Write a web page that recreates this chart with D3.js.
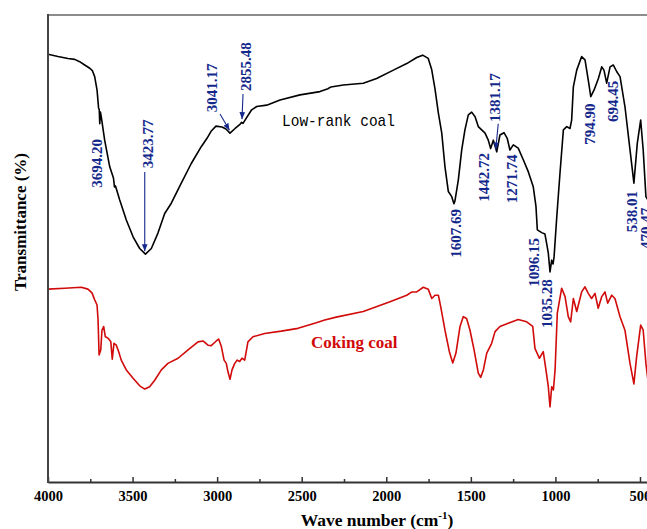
<!DOCTYPE html>
<html><head><meta charset="utf-8">
<script src="https://cdn.jsdelivr.net/npm/d3@7/dist/d3.min.js"></script>
<style>body{margin:0;background:#fff}svg{display:block}</style>
</head><body><svg id="c" width="647" height="529"></svg>
<script>
// ---- data ----
const lowRankWave = [4000,3941,3882,3842,3813,3783,3753,3738,3724,3710,3701,3697,3694,3690,3685,3665,3635,3613,3607,3601,3576,3537,3497,3458,3424,3389,3350,3310,3271,3212,3153,3094,3060,3036,3007,2971,2948,2924,2894,2865,2855,2847,2835,2796,2766,2707,2628,2510,2392,2345,2327,2254,2136,2057,1958,1879,1820,1785,1752,1732,1712,1692,1672,1653,1633,1613,1600,1594,1574,1554,1535,1515,1495,1475,1456,1416,1397,1383,1367,1347,1328,1304,1285,1269,1249,1220,1190,1160,1131,1115,1107,1081,1062,1052,1042,1032,1022,1014,1008,992,973,953,933,914,904,894,874,845,825,806,791,772,746,726,713,697,677,658,638,618,589,559,536,516,496,481,465,453,431];
const lowRankT = [91.6,91.1,90.7,90.5,90.0,89.3,88.6,88.1,86.8,83.9,80.1,79.7,76.7,79.2,78.2,73.2,67.5,65.1,63.2,63.4,60.4,56.1,52.5,50.0,48.8,50.0,53.3,57.5,59.7,64.0,68.2,71.8,73.6,75.1,76.2,76.0,75.6,74.7,75.7,76.6,77.0,76.8,77.5,79.7,80.4,80.7,81.8,82.9,83.6,84.2,84.6,85.0,85.4,86.4,88.2,89.6,90.9,91.4,90.7,88.4,84.2,79.0,74.7,67.5,62.2,61.1,59.6,60.2,64.7,71.1,75.4,78.6,79.2,78.2,76.1,74.7,73.2,71.4,73.2,70.7,74.3,74.8,73.6,71.1,72.2,71.5,69.0,66.4,63.2,59.0,54.0,53.4,53.1,51.1,49.0,45.0,47.5,46.7,48.2,56.8,66.1,75.4,76.1,75.7,77.5,84.6,88.2,91.1,90.4,86.1,82.5,83.9,86.4,88.9,88.2,85.4,88.9,89.3,87.9,86.8,80.4,71.1,64.0,72.5,77.5,71.1,61.1,60.4,62.6];

const cokingWave = [4000,3901,3803,3764,3740,3724,3710,3704,3698,3688,3681,3671,3661,3645,3629,3620,3610,3596,3582,3567,3537,3497,3458,3428,3399,3369,3330,3291,3231,3172,3113,3084,3054,3035,3005,2991,2975,2959,2946,2936,2924,2912,2896,2881,2867,2853,2837,2828,2818,2788,2719,2621,2522,2423,2364,2296,2136,1978,1879,1848,1820,1781,1752,1731,1712,1692,1678,1653,1627,1607,1588,1564,1545,1525,1505,1481,1456,1442,1426,1406,1377,1357,1328,1279,1220,1170,1134,1121,1095,1072,1056,1042,1032,1022,1012,1002,989,963,943,924,910,894,874,845,825,806,786,766,747,726,707,691,667,648,618,589,559,536,520,496,481,465,453,440];
const cokingT = [41.3,41.5,41.7,41.3,40.5,39.0,37.9,34.7,27.2,28.3,32.5,33.3,31.1,30.8,30.1,26.3,29.7,29.3,27.9,26.1,24.0,22.2,20.6,19.9,20.4,21.8,24.0,25.4,26.5,28.3,30.0,30.2,29.3,29.2,30.2,30.6,29.0,26.1,25.4,23.6,22.0,24.0,25.4,26.1,25.8,26.5,26.1,27.9,30.0,31.1,31.8,32.3,32.9,34.0,34.7,35.3,36.5,38.6,40.0,40.7,40.7,41.7,41.3,39.3,40.0,40.0,37.5,32.5,27.9,25.5,27.6,33.3,35.4,35.0,32.5,28.3,23.3,22.4,24.0,27.6,29.7,32.2,33.3,34.0,34.8,34.3,33.3,28.6,26.5,27.9,24.0,20.4,16.1,20.4,19.7,24.0,36.1,41.5,39.7,35.4,34.3,39.3,36.5,40.7,41.8,40.4,39.3,40.4,37.2,39.7,40.7,38.3,40.0,39.3,35.4,32.5,25.4,21.0,26.8,33.6,32.5,25.4,21.8,19.0];

const seriesNames = ["Low-rank coal", "Coking coal"];
const xTicks = [4000,3500,3000,2500,2000,1500,1000,500];
const xMinorTicks = [3750,3250,2750,2250,1750,1250,750];
const peakLabels = ["3694.20","3423.77","3041.17","2855.48","1607.69","1442.72","1381.17","1271.74","1096.15","1035.28","794.90","694.45","538.01","470.47"];

// ---- layout (label anchors in data units: [wave, T]) ----
const labelAnchors = [[3681,63.0],[3379,67.2],[3001,79.2],[2800,83.7],[1558,48.0],[1393,60.0],[1328,77.1],[1227,59.7],[1097,41.8],[1020,33.0],[766,72.2],[630,77.1],[518,53.5],[435,49.9]];
const arrows = [[[3428,66.4],[3428,49.4]],[[2983,78.8],[2927,75.3]],[[2847,83.1],[2853,77.7]],[[1338,76.7],[1353,71.2]]];

const W = 647, H = 529;
const L = 48, T0 = 15, B = 482;
const pxPerUnit = 0.16914;
const x = d3.scaleLinear().domain([4000, 400]).range([L, L + 3600 * pxPerUnit]);
const y = d3.scaleLinear().domain([0, 100]).range([B, T0]);

const svg = d3.select("#c");
const blue = "#14288c";
const serif = "'Liberation Serif','Times New Roman',serif";

svg.append("defs").append("marker")
  .attr("id","ah").attr("viewBox","0 0 10 10").attr("refX",10).attr("refY",5)
  .attr("markerWidth",7).attr("markerHeight",7).attr("markerUnits","userSpaceOnUse")
  .attr("orient","auto")
  .append("path").attr("d","M0,1 L10,5 L0,9 Z").attr("fill",blue);

svg.append("clipPath").attr("id","pc").append("rect")
  .attr("x",L).attr("y",T0).attr("width",W-L+20).attr("height",B-T0);

// top frame
svg.append("line").attr("x1",L).attr("x2",W+5).attr("y1",T0).attr("y2",T0)
  .attr("stroke","#666").attr("stroke-width",1.6);

const line = d3.line().x(d => x(d[0])).y(d => y(d[1]));
const g = svg.append("g").attr("clip-path","url(#pc)");
g.append("path").datum(lowRankWave.map((w,i)=>[w,lowRankT[i]]))
  .attr("d",line).attr("fill","none").attr("stroke","#000").attr("stroke-width",1.6).attr("stroke-linejoin","round");
g.append("path").datum(cokingWave.map((w,i)=>[w,cokingT[i]]))
  .attr("d",line).attr("fill","none").attr("stroke","#d10a0a").attr("stroke-width",1.6).attr("stroke-linejoin","round");

// x axis
const xAxis = d3.axisBottom(x).tickValues(xTicks).tickSizeInner(-5).tickSizeOuter(0).tickFormat(d3.format("d"));
const ax = svg.append("g").attr("transform",`translate(0,${B})`).call(xAxis);
ax.select(".domain").attr("stroke","#333").attr("stroke-width",2);
ax.selectAll(".tick line").attr("stroke","#333").attr("stroke-width",1.5);
ax.selectAll(".tick text").attr("y",9).attr("dy","0.71em")
  .attr("font-family",serif).attr("font-weight","bold").attr("font-size","14.5px").attr("fill","#000");
const axMinor = d3.axisBottom(x).tickValues(xMinorTicks).tickSizeInner(-3).tickSizeOuter(0).tickFormat("");
const am = svg.append("g").attr("transform",`translate(0,${B})`).call(axMinor);
am.select(".domain").remove();
am.selectAll(".tick line").attr("stroke","#333").attr("stroke-width",1.5);

// y axis (no ticks)
svg.append("line").attr("x1",L).attr("x2",L).attr("y1",T0-1).attr("y2",B+1)
  .attr("stroke","#444").attr("stroke-width",2);

// axis titles
const xt = svg.append("text").attr("x",377).attr("y",526).attr("text-anchor","middle")
  .attr("font-family",serif).attr("font-weight","bold").attr("font-size","17.5px");
xt.append("tspan").text("Wave number (cm");
xt.append("tspan").attr("font-size","11px").attr("dy","-7").text("-1");
xt.append("tspan").attr("dy","7").text(")");

svg.append("text").attr("transform","translate(26,222) rotate(-90)").attr("text-anchor","middle")
  .attr("font-family",serif).attr("font-weight","bold").attr("font-size","17px").text("Transmittance (%)");

// series labels
svg.append("text").attr("x",282).attr("y",126).attr("font-family","'Liberation Mono','DejaVu Sans Mono',monospace")
  .attr("font-size","17px").attr("textLength",113).attr("lengthAdjust","spacingAndGlyphs").attr("fill","#000").text(seriesNames[0]);
svg.append("text").attr("x",311).attr("y",348).attr("font-family",serif).attr("font-weight","bold")
  .attr("font-size","17px").attr("fill","#d10a0a").text(seriesNames[1]);

// peak annotations
svg.append("g").selectAll("text").data(peakLabels).join("text")
  .attr("transform",(d,i)=>`translate(${x(labelAnchors[i][0])},${y(labelAnchors[i][1])}) rotate(-90)`)
  .attr("font-family",serif).attr("font-weight","bold").attr("font-size","15px").attr("fill",blue)
  .text(d=>d);
svg.append("g").selectAll("line").data(arrows).join("line")
  .attr("x1",d=>x(d[0][0])).attr("y1",d=>y(d[0][1])).attr("x2",d=>x(d[1][0])).attr("y2",d=>y(d[1][1]))
  .attr("stroke",blue).attr("stroke-width",1.1).attr("marker-end","url(#ah)");
</script></body></html>
